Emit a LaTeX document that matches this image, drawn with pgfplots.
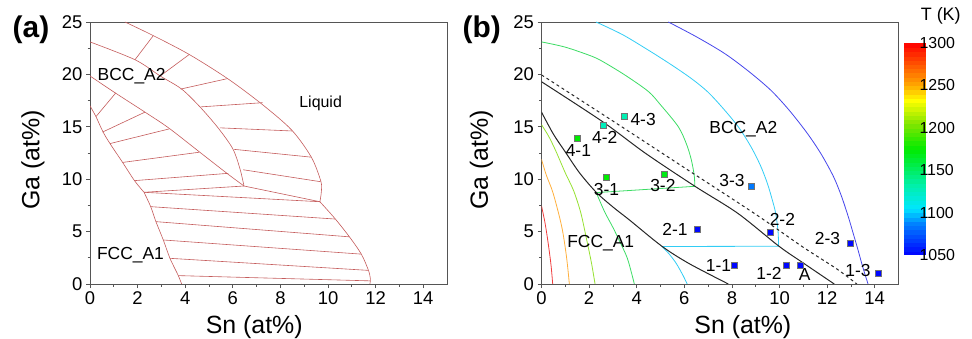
\documentclass[border=0pt]{standalone}
\usepackage{pgfplots}
\pgfplotsset{compat=1.18}
\usepackage{fontspec}
\setmainfont{Liberation Sans}
\definecolor{axgray}{HTML}{555555}
\definecolor{pred}{RGB}{196,92,92}
\definecolor{cred}{RGB}{240,60,60}
\definecolor{corange}{RGB}{255,175,60}
\definecolor{cyg}{RGB}{150,225,50}
\definecolor{cgreen}{RGB}{60,220,100}
\definecolor{ccyan}{RGB}{50,205,245}
\definecolor{cblue}{RGB}{70,70,235}
\pgfplotsset{
  colormap={tk}{rgb255(0pt)=(0,0,255) rgb255(15pt)=(0,130,255) rgb255(22pt)=(0,230,255) rgb255(33pt)=(0,240,170) rgb255(50pt)=(0,235,0) rgb255(62pt)=(130,230,0) rgb255(73pt)=(255,255,0) rgb255(80pt)=(255,170,0) rgb255(100pt)=(255,0,0)},
  panel/.style={
    scale only axis, width=357bp, height=262bp,
    xmin=0, xmax=15, ymin=0, ymax=25,
    xtick={0,2,...,14}, ytick={0,5,...,25},
    minor x tick num=1, minor y tick num=1,
    tick align=outside, tick pos=left,
    major tick length=4bp, minor tick length=2.5bp,
    axis line style={axgray, line width=0.8bp},
    tick style={axgray, line width=0.8bp},
    tick label style={font=\fontsize{18.5}{20}\selectfont},
    /pgf/number format/assume math mode=true,
    label style={font=\fontsize{25}{28}\selectfont},
    xlabel={Sn (at\%)}, ylabel={Ga (at\%)},
  },
}
\begin{document}
\begin{tikzpicture}
\useasboundingbox (0,0) rectangle (972bp,339bp);
% ---------------- panel (a) ----------------
\begin{axis}[panel, at={(90bp,55bp)}, anchor=south west,
  xlabel style={at={(axis description cs:0.46,-0.163)}, anchor=center},
  ylabel style={at={(axis description cs:-0.16,0.473)}, anchor=center},
  every axis plot post/.append style={pred, solid, line width=0.6bp, mark=none}]
% liquidus (BCC+L / L)
\addplot[smooth] coordinates {(1.47,25) (2.66,23.7) (4.17,21.9) (5.78,19.6) (7.2,17.2) (8.47,14.7) (9.3,12.1) (9.7,9.8) (9.72,8.8) (9.66,7.85)};
% liquidus (FCC+L / L)
\addplot[smooth] coordinates {(9.66,7.85) (10.29,6.25) (10.9,4.5) (11.4,2.85) (11.7,1.3) (11.78,0.5) (11.76,0)};
% BCC upper boundary
\addplot[smooth] coordinates {(0,23.1) (1.89,21.4) (2.95,19.85) (3.85,18.6) (4.62,16.9) (5.38,14.9) (6.0,12.9) (6.3,11.0) (6.47,9.35)};
% BCC lower boundary
\addplot[smooth] coordinates {(0,19.85) (1.05,18.25) (2.31,16.4) (3.3,14.9) (4.6,12.6) (5.73,10.6) (6.47,9.35)};
% FCC upper boundary
\addplot[smooth] coordinates {(0,17.0) (0.25,15.97) (0.55,14.5) (0.84,13.4) (1.37,11.6) (1.87,9.86) (2.27,8.75)};
% FCC lower boundary
\addplot[smooth] coordinates {(2.27,8.75) (2.55,7.38) (2.77,5.95) (3.08,4.2) (3.36,2.45) (3.71,0.8) (3.85,0)};
% three-phase triangle
\addplot coordinates {(2.27,8.75) (6.47,9.35)};
\addplot coordinates {(2.27,8.75) (9.66,7.85)};
\addplot coordinates {(6.47,9.35) (9.66,7.85)};
% tie lines FCC+L
\addplot coordinates {(2.55,7.38) (10.29,6.2)};
\addplot coordinates {(2.77,5.95) (10.9,4.5)};
\addplot coordinates {(3.08,4.2) (11.4,2.85)};
\addplot coordinates {(3.36,2.45) (11.7,1.3)};
\addplot coordinates {(3.71,0.8) (11.76,0.3)};
% tie lines BCC+L
\addplot coordinates {(1.89,21.4) (2.66,23.7)};
\addplot coordinates {(2.95,19.85) (4.17,21.9)};
\addplot coordinates {(3.81,18.6) (5.78,19.6)};
\addplot coordinates {(4.65,16.9) (7.25,17.3)};
\addplot coordinates {(5.46,14.9) (8.5,14.6)};
\addplot coordinates {(6.05,12.85) (9.31,12.1)};
\addplot coordinates {(6.44,10.9) (9.69,9.76)};
% tie lines FCC+BCC
\addplot coordinates {(0.25,15.97) (1.09,18.25)};
\addplot coordinates {(0.53,14.5) (2.31,16.4)};
\addplot coordinates {(0.84,13.4) (3.33,14.8)};
\addplot coordinates {(1.37,11.6) (4.58,12.57)};
\addplot coordinates {(1.85,9.86) (5.81,10.56)};
\node[font=\fontsize{17.5}{19}\selectfont] at (axis cs:1.75,19.85) {BCC\_A2};
\node[font=\fontsize{16}{18}\selectfont] at (axis cs:9.69,17.2) {Liquid};
\node[font=\fontsize{17.5}{19}\selectfont] at (axis cs:1.7,2.77) {FCC\_A1};
\end{axis}
% ---------------- panel (b) ----------------
\begin{axis}[panel, at={(541.5bp,55bp)}, anchor=south west,
  xlabel style={at={(axis description cs:0.564,-0.163)}, anchor=center},
  ylabel style={at={(axis description cs:-0.168,0.473)}, anchor=center},
  colormap name=tk, point meta min=1050, point meta max=1300,
  colorbar sampled,
  colorbar style={
    samples=51,
    at={(parent axis.south east)}, anchor=south west,
    xshift=-3bp, yshift=29bp, width=22bp, height=212bp, scale only axis,
    ytick={1050,1100,...,1300}, minor y tick num=0,
    axis line style={draw=none}, major tick length=0pt,
    yticklabel style={font=\fontsize{16}{18}\selectfont, xshift=-10bp},
    /pgf/number format/assume math mode=true,
    /pgf/number format/1000 sep={},
    title={T (K)},
    title style={at={(1.67,1)}, anchor=base, yshift=16.5bp, font=\fontsize{18}{20}\selectfont},
  },
  every axis plot/.append style={line width=0.8bp}]
\addplot[cred, smooth] coordinates {(0,7.45) (0.15,5.8) (0.28,3.9) (0.4,1.8) (0.47,0)};
\addplot[corange, smooth] coordinates {(0,11.9) (0.2,10.4) (0.49,8.65) (0.85,5.47) (1.05,2.6) (1.17,0)};
\addplot[cyg, smooth] coordinates {(0,15.2) (0.3,14.1) (0.6,12.7) (1.0,10.6) (1.35,8.9) (1.65,6.8) (1.9,4.2) (2.1,2.0) (2.25,0)};
\addplot[cgreen, smooth] coordinates {(0,23.1) (1.0,22.6) (2.15,21.7) (2.7,21.06) (3.6,19.8) (4.5,18.35) (5.0,17.1) (5.75,15.0) (6.1,13.3) (6.3,11.8) (6.42,10.3) (6.44,9.32)};
\addplot[cgreen] coordinates {(6.44,9.32) (2.3,8.72)};
\addplot[cgreen, smooth] coordinates {(2.3,8.72) (2.65,6.9) (3.0,5.4) (3.3,4.0) (3.6,2.5) (3.8,0.9) (3.9,0)};
\addplot[ccyan, smooth] coordinates {(2.29,25) (3.4,23.8) (4.5,22.3) (5.4,21.0) (6.3,19.6) (7.0,18.3) (7.69,16.6) (8.3,14.9) (8.8,13.1) (9.2,11.3) (9.49,9.6) (9.7,8.0) (9.84,6.74) (9.94,5.0) (9.96,3.6)};
\addplot[ccyan] coordinates {(9.96,3.6) (5.06,3.58)};
\addplot[ccyan, smooth] coordinates {(5.06,3.58) (5.35,2.9) (5.66,1.97) (5.95,0.8) (6.12,0)};
\addplot[cblue, smooth] coordinates {(5.33,25) (6.5,23.6) (7.69,22.0) (8.7,20.3) (9.63,18.5) (10.4,16.6) (11.16,14.4) (11.75,12.4) (12.27,10.24) (12.6,8.4) (12.89,6.42) (13.1,4.8) (13.3,3.24) (13.5,1.6) (13.72,0)};
% black boundaries
\addplot[black!85, line width=1bp, smooth] coordinates {(0,19.3) (2.56,15.5) (4.37,12.47) (6.45,9.32) (8.25,6.74) (9.98,3.6) (11.02,1.97) (12.3,0)};
\addplot[black!85, line width=1bp, smooth] coordinates {(0,16.4) (0.5,14.3) (1,12.6) (1.6,10.6) (2.3,8.75) (3,7.35) (3.7,6.1) (5.06,3.6) (6.2,1.95) (7.85,0)};
\addplot[black!85, line width=1bp, dashed, smooth] coordinates {(0,19.95) (3,15.55) (6,11.1) (9,6.65) (11,3.5) (12.4,1.45) (13.25,0)};
% samples
\addplot[scatter, only marks, mark=square*, mark size=3bp, point meta=explicit,
  scatter/use mapped color={draw=black!55, fill=mapped color}, line width=0.4bp]
  table[meta=T] {
x y T
3.49 15.97 1130
2.59 15.17 1127
1.52 13.90 1175
2.70 10.18 1175
5.17 10.50 1170
8.83 9.35 1085
6.55 5.22 1052
9.60 4.93 1052
12.96 3.88 1052
8.11 1.81 1052
10.30 1.75 1052
10.88 1.81 1052
14.14 1.02 1052
};
\begin{scope}[font=\fontsize{17.5}{19}\selectfont]
\node at (axis cs:4.27,15.65) {4-3};
\node at (axis cs:2.66,13.96) {4-2};
\node at (axis cs:1.55,12.72) {4-1};
\node at (axis cs:2.73,9.03) {3-1};
\node at (axis cs:5.1,9.38) {3-2};
\node at (axis cs:8.0,9.92) {3-3};
\node at (axis cs:8.48,14.76) {BCC\_A2};
\node at (axis cs:10.12,6.2) {2-2};
\node at (axis cs:5.61,5.22) {2-1};
\node at (axis cs:12.02,4.36) {2-3};
\node at (axis cs:2.49,3.94) {FCC\_A1};
\node at (axis cs:7.44,1.75) {1-1};
\node at (axis cs:9.56,1.02) {1-2};
\node at (axis cs:11.06,0.95) {A};
\node at (axis cs:13.3,1.27) {1-3};
\end{scope}
\end{axis}
\node[font=\bfseries\fontsize{30}{32}\selectfont] at (31bp,309bp) {(a)};
\node[font=\bfseries\fontsize{30}{32}\selectfont] at (481.7bp,309bp) {(b)};
\end{tikzpicture}
\end{document}
